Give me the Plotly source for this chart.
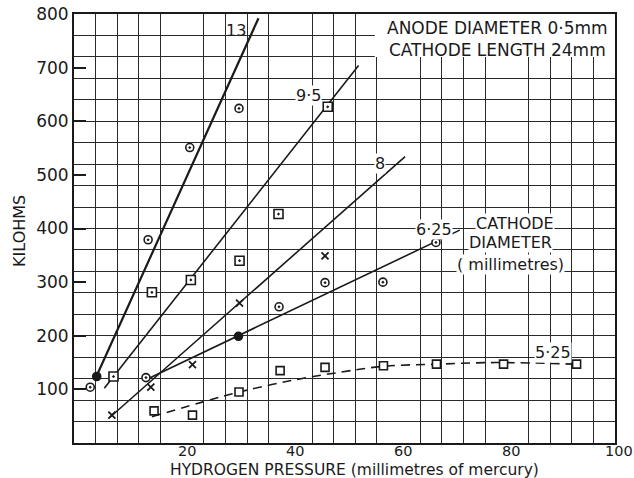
import plotly.graph_objects as go

# Measured points, per cathode diameter (mm)
d13_x = [3.0, 4.2, 13.7, 21.4, 30.5]
d13_y = [104, 124, 379, 551, 624]
d13_sym = ["circle-dot", "circle", "circle-dot", "circle-dot", "circle-dot"]

d95_x = [7.3, 14.4, 21.6, 30.6, 37.8, 46.9]
d95_y = [124, 281, 304, 340, 427, 627]

d8_x = [7.0, 14.2, 21.9, 30.6, 46.4]
d8_y = [52, 104, 146, 261, 349]

d625_x = [13.3, 30.4, 37.9, 46.4, 57.1, 66.9]
d625_y = [122, 199, 254, 299, 300, 374]
d625_sym = ["circle-dot", "circle", "circle-dot", "circle-dot", "circle-dot", "circle-dot"]

d525_x = [14.8, 21.9, 30.5, 38.1, 46.4, 57.2, 67.0, 79.4, 92.9]
d525_y = [60, 52, 95, 135, 141, 144, 147, 147, 147]

# Fitted lines
fit13_x, fit13_y = [3.9, 34.1], [119, 792]
fit95_x, fit95_y = [5.6, 52.6], [102, 704]
fit8_x, fit8_y = [6.65, 61.2], [48, 534]
fit625_x, fit625_y = [13.3, 71.3], [118, 397]
fit525_x = [14.4, 25.7, 30.5, 39.9, 49.2, 57.2, 67.0, 78.0, 93.0]
fit525_y = [49, 82, 95, 116, 132, 143, 147, 150, 147]

x_ticks = [20, 40, 60, 80, 100]
y_ticks = [100, 200, 300, 400, 500, 600, 700, 800]

INK = "#1a1a1a"
FONT = "DejaVu Sans"

fig = go.Figure()

def fit_line(xs, ys, width=1.6, dash="solid", shape="linear"):
    fig.add_trace(go.Scatter(x=xs, y=ys, mode="lines", line_shape=shape,
                             line=dict(color=INK, width=width, dash=dash),
                             hoverinfo="skip", showlegend=False))

fit_line(fit13_x, fit13_y, width=2.2)
fit_line(fit95_x, fit95_y)
fit_line(fit8_x, fit8_y)
fit_line(fit625_x, fit625_y)
fit_line(fit525_x, fit525_y, width=1.6, dash="9px,6px", shape="spline")

def points(xs, ys, symbol, size=8, lw=1.5):
    fig.add_trace(go.Scatter(x=xs, y=ys, mode="markers",
                             marker=dict(symbol=symbol, size=size, color=INK,
                                         line=dict(color=INK, width=lw)),
                             showlegend=False))

def open_points(xs, ys, symbols, size=8):
    fig.add_trace(go.Scatter(x=xs, y=ys, mode="markers",
                             marker=dict(symbol=symbols, size=size, color="white",
                                         line=dict(color=INK, width=1.6)),
                             showlegend=False))

# circle-dot markers: white fill with dark outline; solid ones filled dark
def mixed_points(xs, ys, syms, size=8):
    fills = [INK if s == "circle" else "white" for s in syms]
    fig.add_trace(go.Scatter(x=xs, y=ys, mode="markers",
                             marker=dict(symbol=syms, size=size, color=fills,
                                         line=dict(color=INK, width=1.6)),
                             showlegend=False))

mixed_points(d13_x, d13_y, d13_sym)
open_points(d95_x, d95_y, ["square-dot"] * len(d95_x), size=9)
points(d8_x, d8_y, "x-thin", size=7, lw=1.8)
mixed_points(d625_x, d625_y, d625_sym)
open_points(d525_x, d525_y, ["square"] * len(d525_x), size=8)

# white panel behind the heading text
fig.add_shape(type="rect", x0=55.6, x1=100, y0=720, y1=800, layer="between",
              fillcolor="white", line=dict(width=0))
fig.add_annotation(x=78.3, y=753, text="ANODE DIAMETER 0·5mm<br>CATHODE LENGTH 24mm",
                   showarrow=False, font=dict(family=FONT, size=17, color=INK),
                   align="center")

def label(x, y, text, size=16, bg="white"):
    fig.add_annotation(x=x, y=y, text=text, showarrow=False, bgcolor=bg,
                       borderpad=0, font=dict(family=FONT, size=size, color=INK))

label(30.0, 769, "13", bg="rgba(0,0,0,0)")
label(43.3, 648, "9·5")
label(56.6, 522, "8")
label(66.5, 399, "6·25")
label(88.5, 168, "5·25")
label(81.6, 409, "CATHODE")
label(80.6, 373, "DIAMETER")
label(80.6, 332, "( millimetres)")

# x tick labels and axis titles placed by hand (paper coordinates)
for v in x_ticks:
    fig.add_annotation(x=(v + 0.8) / 100, xref="paper", yref="paper", y=-0.019,
                       xanchor="center", yanchor="middle", text=str(v), showarrow=False,
                       font=dict(family=FONT, size=14.5, color=INK))
fig.add_annotation(xref="paper", yref="paper", x=0.518, y=-0.062,
                   xanchor="center", yanchor="middle",
                   text="HYDROGEN PRESSURE (millimetres of mercury)", showarrow=False,
                   font=dict(family=FONT, size=15.5, color=INK))
fig.add_annotation(xref="paper", yref="paper", x=-0.102, y=0.494,
                   xanchor="center", yanchor="middle",
                   text="KILOHMS", textangle=-90, showarrow=False,
                   font=dict(family=FONT, size=16, color=INK))

fig.update_layout(
    width=634, height=478,
    margin=dict(l=74, r=19, t=14, b=35),
    paper_bgcolor="white", plot_bgcolor="white",
    font=dict(family=FONT, color=INK),
    xaxis=dict(range=[0, 100], showticklabels=False,
               showgrid=False, zeroline=False, ticks="", automargin=False,
               showline=True, mirror=True, linecolor=INK, linewidth=2,
               minor=dict(tick0=0, dtick=4, showgrid=True, gridcolor="#2a2a2a",
                          gridwidth=1.3, ticks="")),
    yaxis=dict(range=[0, 800], tickvals=y_ticks, ticktext=[str(v) for v in y_ticks],
               showgrid=False, zeroline=False, ticks="inside", ticklen=12,
               tickwidth=1.5, tickcolor=INK, automargin=False,
               showline=True, mirror=True, linecolor=INK, linewidth=2,
               tickfont=dict(size=17, family=FONT),
               minor=dict(tick0=0, dtick=40, showgrid=True, gridcolor="#2a2a2a",
                          gridwidth=1.3, ticks="")),
)

fig.write_html("out.html")
